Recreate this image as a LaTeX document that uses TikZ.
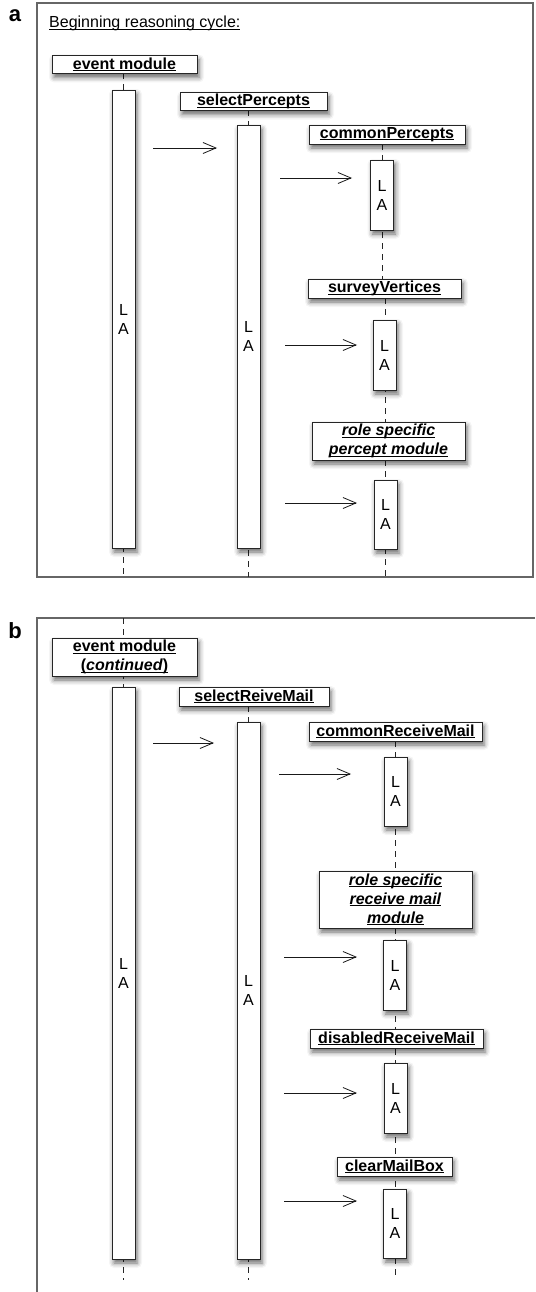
\documentclass[tikz,border=0pt]{standalone}
\usepackage{fontspec}
\setmainfont{Liberation Sans}
\usetikzlibrary{arrows.meta,shadows.blur}
\newcommand\myul[1]{\setbox0\hbox{#1}\rlap{\rule[-1.8pt]{\wd0}{0.9pt}}\box0}
\tikzset{
  frame/.style={draw=black!60, line width=1.3pt},
  sh/.style={blur shadow={shadow xshift=2pt, shadow yshift=-4pt, shadow blur radius=5pt, shadow opacity=60}},
  head/.style={draw=black!85, line width=0.9pt, fill=white, inner sep=0pt, align=center,
    font=\fontsize{16}{19}\selectfont\bfseries, sh},
  act/.style={draw=black!85, line width=0.9pt, fill=white, inner sep=0pt, minimum width=23pt,
    align=center, font=\fontsize{16}{19}\selectfont, sh},
  life/.style={draw=black!85, line width=0.9pt, dash pattern=on 6pt off 5pt},
  msg/.style={draw=black!90, line width=0.8pt, -{Straight Barb[length=13pt,width=11pt,line width=0.8pt]}},
  panel/.style={font=\fontsize{22}{22}\selectfont\bfseries, inner sep=0pt}
}
\begin{document}
\begin{tikzpicture}[x=1pt,y=-1pt]
\useasboundingbox (0,0) rectangle (535,1292);
% ---------- panel a ----------
\draw[frame] (37,3) rectangle (533,577);
\node[panel] (la) at (15,16) {a};
\node[anchor=base west, font=\fontsize{16}{19}\selectfont, inner sep=0pt] (title) at (49,28) {\myul{Beginning reasoning cycle:}};

% lifelines (drawn first)
\draw[life] (123.5,73) -- (123.5,577);
\draw[life] (248.5,110) -- (248.5,577);
\draw[life] (382,144) -- (382,279);
\draw[life] (385,298) -- (385,422);
\draw[life] (385.5,460) -- (385.5,577);

\node[head,minimum width=145pt,minimum height=18pt] (em) at (124.5,64.5) {\myul{event module}};
\node[act,minimum height=458pt] (ea) at (123.5,319) {L\\A};
\node[head,minimum width=147pt,minimum height=18pt] (sp) at (253.5,101.5) {\myul{selectPercepts}};
\node[act,minimum height=423pt] (sa) at (248.5,336.5) {L\\A};
\node[head,minimum width=156pt,minimum height=19pt] (cp) at (387,134.5) {\myul{commonPercepts}};
\node[act,minimum height=70pt] (ca) at (382,195) {L\\A};
\node[head,minimum width=153pt,minimum height=19pt] (sv) at (384.5,288.5) {\myul{surveyVertices}};
\node[act,minimum height=70pt] (va) at (384.5,355) {L\\A};
\node[head,minimum width=153pt,minimum height=38pt] (rp) at (388.5,441) {\myul{\textit{role specific}}\\\myul{\textit{percept module}}};
\node[act,minimum height=69pt] (ra) at (385.5,514.5) {L\\A};

\coordinate (m1s) at (153,148); \coordinate (m1e) at (217,148);
\coordinate (m2s) at (280,178); \coordinate (m2e) at (352,178);
\coordinate (m3s) at (285,345); \coordinate (m3e) at (357,345);
\coordinate (m4s) at (285,503); \coordinate (m4e) at (357,503);
\draw[msg] (m1s) -- (m1e);
\draw[msg] (m2s) -- (m2e);
\draw[msg] (m3s) -- (m3e);
\draw[msg] (m4s) -- (m4e);

% ---------- panel b ----------
\draw[frame] (535,618) -- (37,618) -- (37,1292);
\node[panel] (lb) at (15,631) {b};

\draw[life] (123.5,618) -- (123.5,1280);
\draw[life] (248.5,706) -- (248.5,1280);
\draw[life] (395.5,741) -- (395.5,1278);

\node[head,minimum width=145pt,minimum height=38pt] (em2) at (124.5,657) {\myul{event module}\\\myul{(\textit{continued})}};
\node[act,minimum height=572pt] (eb) at (123.5,973) {L\\A};
\node[head,minimum width=150pt,minimum height=19pt] (sr) at (254,696.5) {\myul{selectReiveMail}};
\node[act,minimum height=537pt] (sb) at (248.5,990.5) {L\\A};
\node[head,minimum width=173pt,minimum height=19pt] (cr) at (395.5,731.5) {\myul{commonReceiveMail}};
\node[act,minimum height=69pt] (cb) at (395.5,791.5) {L\\A};
\node[head,minimum width=153pt,minimum height=57pt] (rr) at (395.5,899.5) {\myul{\textit{role specific}}\\\myul{\textit{receive mail}}\\\myul{\textit{module}}};
\node[act,minimum height=70pt] (rb) at (395,975) {L\\A};
\node[head,minimum width=173pt,minimum height=19pt] (dr) at (396.5,1038.5) {\myul{disabledReceiveMail}};
\node[act,minimum height=70pt] (db) at (395.5,1098) {L\\A};
\node[head,minimum width=115pt,minimum height=19pt] (cm) at (394.5,1166.5) {\myul{clearMailBox}};
\node[act,minimum height=69pt] (mb) at (395,1223.5) {L\\A};

\coordinate (n1s) at (153,743); \coordinate (n1e) at (214,743);
\coordinate (n2s) at (279,774); \coordinate (n2e) at (351,774);
\coordinate (n3s) at (284,957); \coordinate (n3e) at (357,957);
\coordinate (n4s) at (284,1093); \coordinate (n4e) at (357,1093);
\coordinate (n5s) at (284,1201); \coordinate (n5e) at (357,1201);
\draw[msg] (n1s) -- (n1e);
\draw[msg] (n2s) -- (n2e);
\draw[msg] (n3s) -- (n3e);
\draw[msg] (n4s) -- (n4e);
\draw[msg] (n5s) -- (n5e);
\end{tikzpicture}
\end{document}
